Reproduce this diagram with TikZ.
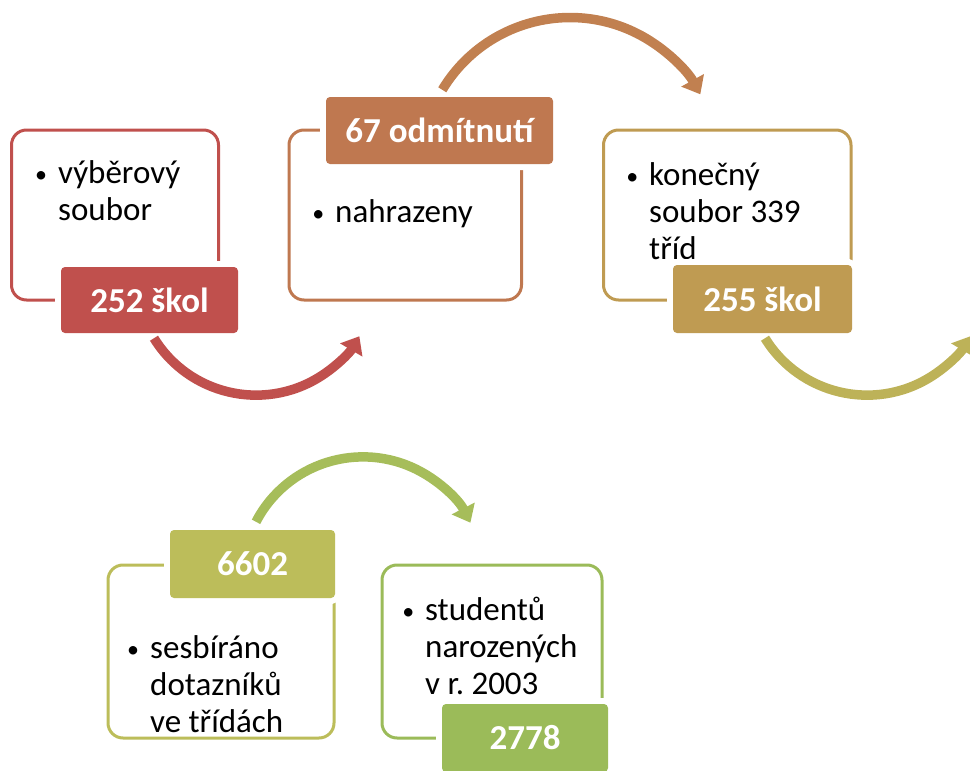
\documentclass[tikz,border=0pt]{standalone}
\usepackage{fontspec}
\setmainfont{Carlito}
\usetikzlibrary{arrows.meta,calc}
\definecolor{cRed}{RGB}{192,80,77}
\definecolor{cOra}{RGB}{191,120,80}
\definecolor{cOraA}{RGB}{193,128,80}
\definecolor{cGold}{RGB}{191,155,82}
\definecolor{cOlvA}{RGB}{189,178,88}
\definecolor{cOlv}{RGB}{188,189,90}
\definecolor{cGrnA}{RGB}{166,189,90}
\definecolor{cGrn}{RGB}{155,187,89}
\newcommand\labfont{\fontsize{35}{40}\selectfont\bfseries}
\newcommand\txtfont{\fontsize{33}{37}\selectfont}
\newcommand\bul{\llap{\raisebox{1pt}{\fontsize{24}{24}\selectfont •}\hspace{11pt}}}
\tikzset{
  outl/.style={draw=#1, line width=3pt, rounded corners=15pt, inner sep=0pt, fill=white},
  lab/.style={fill=#1, rounded corners=4pt, text=white, font=\labfont, inner sep=0pt,
              preaction={draw=white, line width=12pt}},
  txt/.style={inner sep=0pt, font=\txtfont, text=black},
  arr/.style={draw=#1, line width=9.5pt, -{Triangle[width=25pt,length=16pt]}},
}
\begin{document}
\begin{tikzpicture}[x=1pt,y=1pt]
\useasboundingbox (0,0) rectangle (970,-771);
% outline boxes
\node[outl=cRed,  minimum width=207pt,   minimum height=170pt] (b1) at (115,-215) {};
\node[outl=cOra,  minimum width=232.5pt, minimum height=170pt] (b2) at (405.25,-215) {};
\node[outl=cGold, minimum width=247.5pt, minimum height=170pt] (b3) at (727.25,-215) {};
\node[outl=cOlv,  minimum width=226pt,   minimum height=173pt] (b4) at (221,-651.5) {};
\node[outl=cGrn,  minimum width=220pt,   minimum height=173pt] (b5) at (492,-651.5) {};
% texts
\node[txt, anchor=base west] (t1) at (58,-183) {\begin{tabular}[t]{@{}l@{}}\bul výběrový\\ soubor\end{tabular}};
\node[txt, anchor=base west] (t2) at (335,-222) {\begin{tabular}[t]{@{}l@{}}\bul nahrazeny\end{tabular}};
\node[txt, anchor=base west] (t3) at (649,-185) {\begin{tabular}[t]{@{}l@{}}\bul konečný\\ soubor 339\\ tříd\end{tabular}};
\node[txt, anchor=base west] (t4) at (150,-658) {\begin{tabular}[t]{@{}l@{}}\bul sesbíráno\\ dotazníků\\ ve třídách\end{tabular}};
\node[txt, anchor=base west] (t5) at (425,-620) {\begin{tabular}[t]{@{}l@{}}\bul studentů\\ narozených\\ v r.\ 2003\end{tabular}};
% label positions
\path (149.5,-300) coordinate (p1) (439.5,-130.5) coordinate (p2) (762.5,-299) coordinate (p3)
      (252.5,-564) coordinate (p4) (525,-738) coordinate (p5);
% labels
\node[lab=cRed,  minimum width=177pt, minimum height=66pt] (l1) at (p1) {252 škol};
\node[lab=cOra,  minimum width=227pt, minimum height=67pt] (l2) at (p2) {67 odmítnutí};
\node[lab=cGold, minimum width=179pt, minimum height=68pt] (l3) at (p3) {255 škol};
\node[lab=cOlv,  minimum width=165pt, minimum height=68pt] (l4) at (p4) {6602};
\node[lab=cGrn,  minimum width=166pt, minimum height=68pt] (l5) at (p5) {2778};
% arrows
\draw[arr=cRed]  ($(l1.south)+(4.5,-5)$) arc[start angle=211.7, end angle=329.4, radius=120];
\draw[arr=cOraA] ($(l2.north)+(2.8,7)$) arc[start angle=149, end angle=29, radius=149];
\draw[arr=cOlvA] ($(l3.south)+(2.5,-5)$) arc[start angle=211.7, end angle=329.4, radius=120];
\draw[arr=cGrnA] ($(l4.north)+(3.5,8)$) arc[start angle=152.5, end angle=27, radius=120.6];
\end{tikzpicture}
\end{document}
